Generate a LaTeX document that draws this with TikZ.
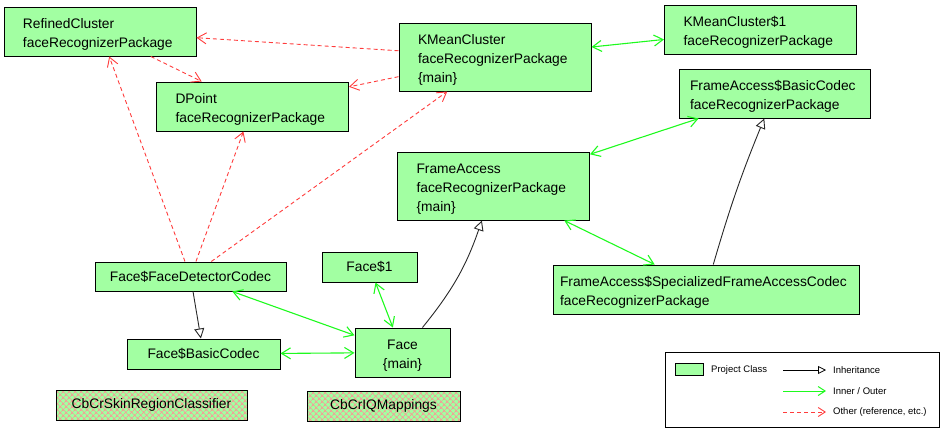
\documentclass[tikz,border=0pt]{standalone}
\usepackage{fontspec}
\setmainfont{Liberation Sans}
\usetikzlibrary{arrows.meta,patterns.meta}
\lefthyphenmin=62
\newcommand\firstlinestrut{\rule{0pt}{15pt}}
\definecolor{boxgreen}{RGB}{162,255,162}
\definecolor{linkgreen}{RGB}{30,250,30}
\definecolor{refred}{RGB}{255,60,60}
\definecolor{hatchpink}{RGB}{250,150,150}
\definecolor{inhgray}{RGB}{40,40,40}
\begin{document}
\begin{tikzpicture}[x=1pt,y=1pt,
  cls/.style={draw=black, line width=1pt, fill=boxgreen, inner sep=0pt,
    font=\fontsize{13.8}{19}\selectfont},
  pkg/.style={cls, align=left, inner xsep=19pt, text width=154pt, minimum width=192pt},
  single/.style={cls, align=center},
  hatched/.style={cls, align=center, pattern={Hatch[angle=45,distance=4pt,line width=0.7pt]}, pattern color=hatchpink,
    preaction={fill=boxgreen}},
  refarrow/.style={draw=refred, line width=0.9pt, dash pattern=on 4pt off 3pt,
    -{Straight Barb[length=9pt,width=11pt,line width=0.9pt]}},
  innerarrow/.style={draw=linkgreen, line width=1.1pt,
    {Straight Barb[length=9pt,width=11pt,line width=1.1pt]}-{Straight Barb[length=9pt,width=11pt,line width=1.1pt]}},
  inharrow/.style={draw=inhgray, line width=0.9pt,
    -{Triangle[open,length=10pt,width=10pt,line width=0.9pt,fill=white]}},
  legtext/.style={anchor=west, inner sep=0pt, font=\fontsize{9.5}{11}\selectfont}
]
\useasboundingbox (0,0) rectangle (945,-432);

% classes
\node[pkg, minimum height=49pt] (rc) at (100,-31.5) {\firstlinestrut RefinedCluster\\faceRecognizerPackage};
\node[pkg, minimum height=49pt, minimum width=191pt] (dp) at (252.5,-106.5) {\firstlinestrut DPoint\\faceRecognizerPackage};
\node[pkg, minimum height=68pt] (kmc) at (495,-57) {\firstlinestrut KMeanCluster\\faceRecognizerPackage\\\{main\}};
\node[pkg, minimum height=49pt, minimum width=191pt] (k1) at (760.5,-29.5) {\firstlinestrut KMeanCluster\$1\\faceRecognizerPackage};
\node[pkg, minimum height=49pt, minimum width=191pt, inner xsep=11pt, text width=169pt] (fabc) at (774.5,-93.5) {\firstlinestrut FrameAccess\$BasicCodec\\faceRecognizerPackage};
\node[pkg, minimum height=68pt, minimum width=191pt] (fa) at (493.5,-186) {\firstlinestrut FrameAccess\\faceRecognizerPackage\\\{main\}};
\node[pkg, minimum height=49pt, minimum width=306pt, inner xsep=7pt, text width=292pt] (spec) at (706,-289.5) {\firstlinestrut FrameAccess\$SpecializedFrameAccessCodec\\faceRecognizerPackage};
\node[single, minimum width=191pt, minimum height=29pt] (fdc) at (190.5,-276.5) {Face\$FaceDetectorCodec};
\node[single, minimum width=95pt, minimum height=30pt] (f1) at (369.5,-267) {Face\$1};
\node[single, minimum width=153pt, minimum height=30pt] (fbc) at (203.5,-354) {Face\$BasicCodec};
\node[single, minimum width=95pt, minimum height=49pt] (face) at (402.5,-352.5) {\firstlinestrut Face\\\{main\}};
\node[hatched, minimum width=191pt, minimum height=30pt] (skin) at (151.5,-405) {CbCrSkinRegionClassifier};
\node[hatched, minimum width=153pt, minimum height=30pt] (iq) at (383.5,-406) {CbCrIQMappings};

% other (reference) links
\draw[refarrow] (kmc) -- (rc);
\draw[refarrow] (rc) -- (dp);
\draw[refarrow] (kmc) -- (dp);
\draw[refarrow] (fdc) -- (rc);
\draw[refarrow] (fdc) -- (dp);
\draw[refarrow] (fdc) -- (kmc);

% inner / outer links
\draw[innerarrow] (kmc) -- (k1);
\draw[innerarrow] (fa) -- (fabc);
\draw[innerarrow] (fa) -- (spec);
\draw[innerarrow] (fdc) -- (face);
\draw[innerarrow] (f1) -- (face);
\draw[innerarrow] (fbc) -- (face);

% inheritance
\draw[inharrow] (spec) to[bend left=3] (fabc);
\draw[inharrow] (face) to[bend right=10] (fa);
\draw[inharrow] (fdc) -- (fbc);

% legend
\node[draw=black, line width=1pt, fill=white, minimum width=274pt, minimum height=75pt, inner sep=0pt] (legend) at (802,-389.5) {};
\node[draw=black, line width=1pt, fill=boxgreen, minimum width=28pt, minimum height=12pt, inner sep=0pt] (legbox) at (689,-369) {};
\node[legtext] (legpc) at (711,-370) {Project Class};
\coordinate (l1a) at (783,-370);
\coordinate (l1b) at (826,-370);
\coordinate (l2a) at (783,-391);
\coordinate (l2b) at (826,-391);
\coordinate (l3a) at (783,-412);
\coordinate (l3b) at (826,-412);
\draw[draw=black, line width=0.8pt, -{Triangle[open,length=8pt,width=8pt,line width=0.8pt,fill=white]}] (l1a) -- (l1b);
\draw[draw=linkgreen, line width=1pt, -{Straight Barb[length=7pt,width=9pt,line width=1pt]}] (l2a) -- (l2b);
\draw[draw=refred, line width=0.9pt, dash pattern=on 4pt off 3pt, -{Straight Barb[length=7pt,width=9pt,line width=0.9pt]}] (l3a) -- (l3b);
\node[legtext] (leginh) at (833,-370) {Inheritance};
\node[legtext] (leginn) at (833,-391) {Inner / Outer};
\node[legtext] (legoth) at (833,-412) {Other (reference, etc.)};
\end{tikzpicture}
\end{document}
